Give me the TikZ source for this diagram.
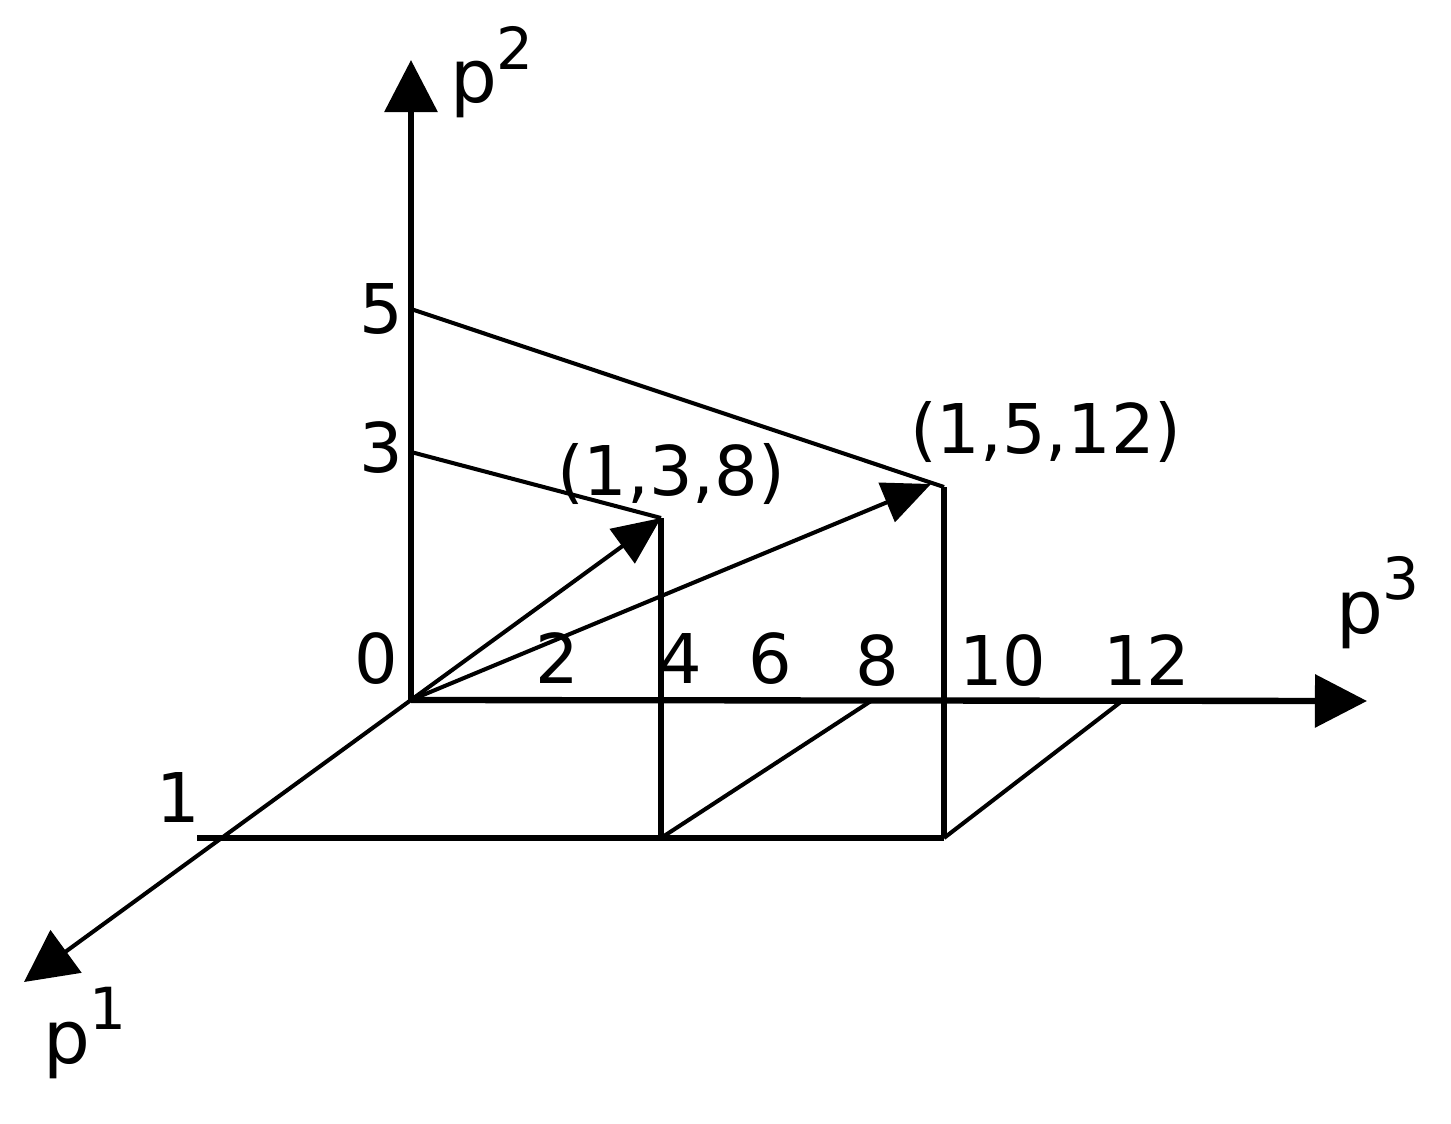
\documentclass[tikz,border=0pt]{standalone}
\usepackage{fontspec}
\setmainfont{DejaVu Sans}
\usetikzlibrary{arrows.meta}
\tikzset{
  thickline/.style={line width=1.8pt, black},
  thinline/.style={line width=1.15pt, black},
  bigtip/.style={-{Triangle[length=0.52cm,width=0.52cm]}},
  vectip/.style={-{Triangle[length=0.48cm,width=0.42cm]}},
  lbl/.style={inner sep=0pt, outer sep=0pt, font=\fontsize{19.5}{19.5}\selectfont, anchor=base},
  plbl/.style={inner sep=0pt, outer sep=0pt, font=\fontsize{21}{21}\selectfont, anchor=base west},
}
\newcommand{\supfig}[1]{\raisebox{0.33cm}{\fontsize{16.5}{16.5}\selectfont #1}}
\begin{document}
\begin{tikzpicture}[x=0.01cm,y=-0.01cm]
\useasboundingbox (0,0) rectangle (1451,1124);
% coordinates
\coordinate (O) at (411,700);
\coordinate (Y2) at (411,60);
\coordinate (X3) at (1367,701);
\coordinate (X1) at (24,982);
\coordinate (T5) at (411,309);
\coordinate (T3) at (411,452);
\coordinate (A) at (661,518);
\coordinate (B) at (944,487);
\coordinate (Bt) at (931,484);
\coordinate (Afoot) at (661,838);
\coordinate (Bfoot) at (944,838);
\coordinate (Lstart) at (197,838);
\coordinate (E8) at (871,701);
\coordinate (E12) at (1122,701);
% axes
\draw[thickline, bigtip] (O) -- (Y2);
\draw[thickline, bigtip] (O) -- (X3);
\draw[thinline, bigtip] (O) -- (X1);
% projection lines
\draw[thinline] (T5) -- (B);
\draw[thinline] (T3) -- (A);
\draw[thickline] (A) -- (Afoot);
\draw[thickline] (B) -- (Bfoot);
\draw[thickline] (Lstart) -- (Bfoot);
\draw[thinline] (Afoot) -- (E8);
\draw[thinline] (Bfoot) -- (E12);
% vectors
\draw[thinline, vectip] (O) -- (A);
\draw[thinline, vectip] (O) -- (Bt);
% tick labels
\node[lbl] (l5) at (381,333) {5};
\node[lbl] (l3) at (381,472) {3};
\node[lbl] (l0) at (376,683) {0};
\node[lbl] (l2) at (557,683) {2};
\node[lbl] (l4) at (680,683) {4};
\node[lbl] (l6) at (770,683) {6};
\node[lbl] (l8) at (877,685) {8};
\node[lbl] (l10) at (1003,685) {10};
\node[lbl] (l12) at (1147,685) {12};
\node[lbl] (l1) at (178,822) {1};
% point labels
\node[lbl, anchor=base west] (pa) at (557,495) {(1,3,8)};
\node[lbl, anchor=base west] (pb) at (910,453) {(1,5,12)};
% axis labels
\node[plbl] (p2) at (450,103) {p\supfig{2}};
\node[plbl] (p3) at (1336,633) {p\supfig{3}};
\node[plbl] (p1) at (43,1063) {p\supfig{1}};
\end{tikzpicture}
\end{document}
